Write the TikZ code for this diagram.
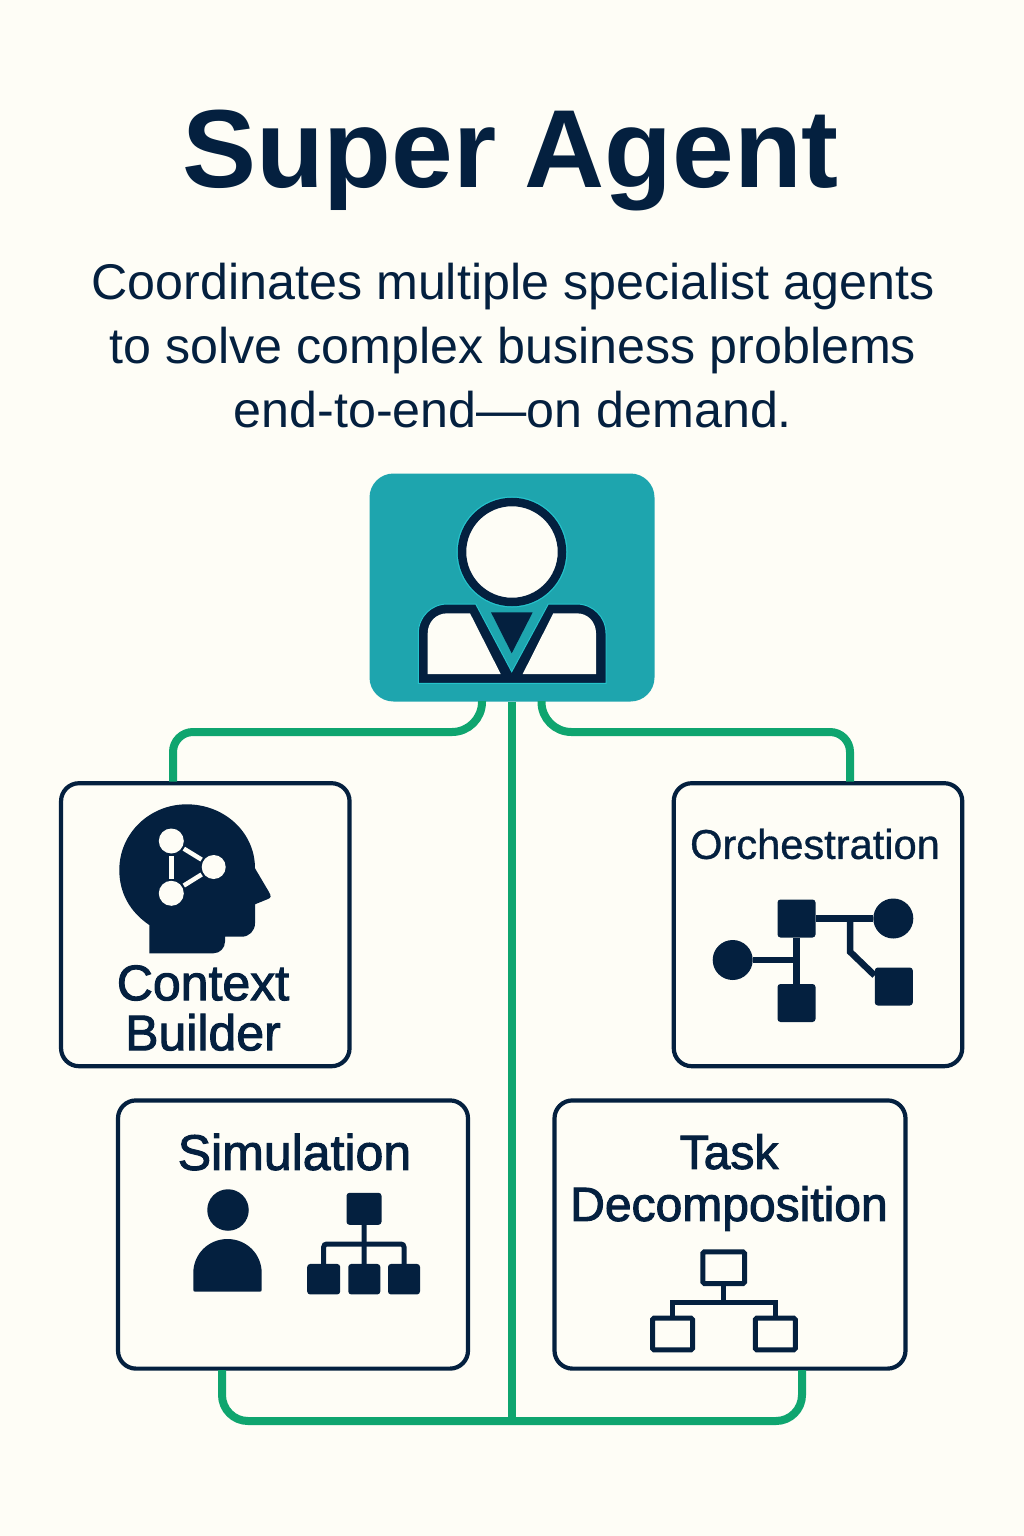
\documentclass[tikz,border=0pt]{standalone}
\usepackage{fontspec}
\setmainfont{Liberation Sans}
\newfontfamily\titlefont[WordSpace=0.9]{Liberation Sans Bold}
\newfontfamily\medfont[FakeBold=2]{Liberation Sans}
\newfontfamily\regfont[FakeBold=0.8]{Liberation Sans}
\definecolor{paper}{HTML}{FEFDF6}
\definecolor{navy}{HTML}{04203F}
\definecolor{teal}{HTML}{1EA5AE}
\definecolor{halo}{HTML}{25C3CC}
\definecolor{wirecol}{HTML}{0FA56F}
\tikzset{
  card/.style={rectangle,rounded corners=18pt,draw=navy,line width=4.2pt,fill=paper,inner sep=0pt},
  wire/.style={draw=wirecol,line width=8pt},
  label/.style={text=navy,inner sep=0pt,align=center},
  solid sq/.style={rectangle,rounded corners=3pt,fill=navy,inner sep=0pt},
  open sq/.style={rectangle,rounded corners=1.5pt,draw=navy,line width=5pt,fill=paper,inner sep=0pt},
  solid dot/.style={circle,fill=navy,inner sep=0pt},
  white dot/.style={circle,fill=paper,inner sep=0pt,minimum size=25pt},
}
\begin{document}
\begin{tikzpicture}
  [x=1pt,y=-1pt]
  \fill[paper] (0,0) rectangle (1024,1536);
  % heading
  \node (title)[label,font=\titlefont\fontsize{111}{111}\selectfont] at (510.5,161) {Super Agent};
  \node (sub)[label,font=\fontsize{50.2}{64}\selectfont] at (513,346) {Coordinates multiple specialist agents\\to solve complex business problems\\end-to-end—on demand.};
  % agent and cards
  \node (agent)[rectangle,rounded corners=24pt,fill=teal,minimum width=285pt,minimum height=228pt] at (512,587.5) {};
  \node (ctx)[card,minimum width=288.5pt,minimum height=283pt] at (205.3,924.7) {};
  \node (orch)[card,minimum width=288.5pt,minimum height=283pt] at (818,924.7) {};
  \node (sim)[card,minimum width=350pt,minimum height=268.2pt] at (293,1234.5) {};
  \node (task)[card,minimum width=351pt,minimum height=268.2pt] at (730,1234.5) {};
  % wires
  \coordinate (tapl) at (482,701);
  \coordinate (tapr) at (541.5,701);
  \coordinate (ctxtop) at (173,781.5);
  \coordinate (orchtop) at (850,781.5);
  \coordinate (simfoot) at (222,1370);
  \coordinate (taskfoot) at (802,1370);
  \coordinate (stem) at (511.5,1421);
  \draw[wire] (agent.south -| stem) -- (stem);
  \draw[wire] (tapl) [rounded corners=30pt] -- (tapl |- 0,732) [rounded corners=20pt] -- (ctxtop |- 0,732) -- (ctxtop);
  \draw[wire] (tapr) [rounded corners=30pt] -- (tapr |- 0,732) [rounded corners=20pt] -- (orchtop |- 0,732) -- (orchtop);
  \draw[wire,rounded corners=26pt] (simfoot) |- (stem) -| (taskfoot);
  % person in agent
  \draw[halo,line width=11pt] (512,552) circle (50);
  \draw[navy,line width=8.5pt,fill=paper] (512,552) circle (50);
  \fill[navy,draw=halo,line width=1pt] (418.3,683.3) -- (418.3,633.3) .. controls (418.3,617) and (431,604) .. (447.3,604)
    -- (475.7,604) -- (511.7,671.7) -- (548.3,604) -- (576.7,604)
    .. controls (593,604) and (606,617) .. (606,633.3) -- (606,683.3) -- cycle;
  \fill[paper] (427.7,674) -- (427.7,633.3) .. controls (427.7,622) and (436,613.3) .. (447.3,613.3) -- (470,613.3) -- (500.7,674) -- cycle;
  \fill[paper] (596,674) -- (596,633.3) .. controls (596,622) and (588,613.3) .. (576.7,613.3) -- (553.3,613.3) -- (522.7,674) -- cycle;
  \fill[navy] (491,612.3) -- (532.7,612.3) -- (511.7,653.3) -- cycle;
  % context builder
  \fill[navy] (149.3,953.3) -- (149.3,925) .. controls (130,912) and (119.3,893) .. (119.3,870)
    .. controls (119.3,833) and (150,804.3) .. (186.7,804.3)
    .. controls (224,804.3) and (255,832) .. (255,868.3)
    -- (269,892) .. controls (271.5,896) and (271,898) .. (268,899)
    -- (255,904.3) -- (255,923.3) .. controls (255,931) and (249,936.7) .. (241.7,936.7)
    -- (225,936.7) -- (225,941.7) .. controls (225,948) and (220,953.3) .. (213.3,953.3) -- cycle;
  \node (d1)[white dot] at (171.3,841) {};
  \node (d2)[white dot,minimum size=24pt] at (213.7,867) {};
  \node (d3)[white dot] at (171.3,893.3) {};
  \foreach \from/\to in {d1/d2,d2/d3,d3/d1}
    \draw[paper,line width=4.5pt,shorten >=2pt,shorten <=2pt] (\from) -- (\to);
  \node (ctxlabel)[label,font=\medfont\fontsize{50}{50}\selectfont] at (203,1008) {Context\\Builder};
  % orchestration
  \node (orchlabel)[label,font=\regfont\fontsize{41.6}{41.6}\selectfont] at (815,844) {Orchestration};
  \node (o1)[solid sq,minimum size=38pt] at (796.5,918.5) {};
  \node (o2)[solid dot,minimum size=40pt] at (893.3,918.5) {};
  \node (o3)[solid dot,minimum size=40pt] at (732.7,960) {};
  \node (o4)[solid sq,minimum size=38pt] at (796.5,1003) {};
  \node (o5)[solid sq,minimum size=38pt] at (893.8,986.5) {};
  \coordinate (obr) at (850,918.5);
  \foreach \from/\to in {o1/o2,o1/o4}
    \draw[navy,line width=6.5pt] (\from) -- (\to);
  \draw[navy,line width=6.5pt] (o3) -- (o3 -| o1);
  \draw[navy,line width=6.5pt] (obr) -- (850,951.7) -- (o5.150);
  % simulation
  \node (simlabel)[label,font=\medfont\fontsize{50}{50}\selectfont] at (294.5,1152) {Simulation};
  \node (shead)[solid dot,minimum size=41.5pt] at (228,1210) {};
  \fill[navy] (195.3,1291.7) .. controls (194,1291.7) and (193.3,1291) .. (193.3,1289.7)
    -- (193.3,1273) .. controls (193.3,1254) and (208.5,1239) .. (227.5,1239)
    .. controls (246.5,1239) and (261.7,1254) .. (261.7,1273)
    -- (261.7,1289.7) .. controls (261.7,1291) and (261,1291.7) .. (259.7,1291.7) -- cycle;
  \node (s0)[solid sq,minimum width=35pt,minimum height=32pt] at (364,1208.8) {};
  \node (s1)[solid sq,minimum width=33pt,minimum height=30.5pt] at (323.7,1279.2) {};
  \node (s2)[solid sq,minimum width=32pt,minimum height=30.5pt] at (364.3,1279.2) {};
  \node (s3)[solid sq,minimum width=32pt,minimum height=30.5pt] at (404,1279.2) {};
  \draw[navy,line width=5pt] (s0) -- (s2);
  \draw[navy,line width=5pt,rounded corners=3pt] (s1) |- (s0 |- 0,1244) -| (s3);
  % task decomposition
  \node (tasklabel)[label,font=\medfont\fontsize{48}{52}\selectfont] at (729,1182.5) {Task\\Decomposition};
  \coordinate (tbus) at (723.7,1302.7);
  \node (t1)[open sq,minimum width=41.7pt,minimum height=31.7pt] at (723.7,1267.7) {};
  \node (t2)[open sq,minimum width=40pt,minimum height=31.6pt] at (672.5,1334) {};
  \node (t3)[open sq,minimum width=40pt,minimum height=31.6pt] at (775.3,1334) {};
  \draw[navy,line width=5pt] (t1.south) -- (tbus);
  \draw[navy,line width=5pt] (t2.north) |- (tbus) -| (t3.north);
\end{tikzpicture}
\end{document}
